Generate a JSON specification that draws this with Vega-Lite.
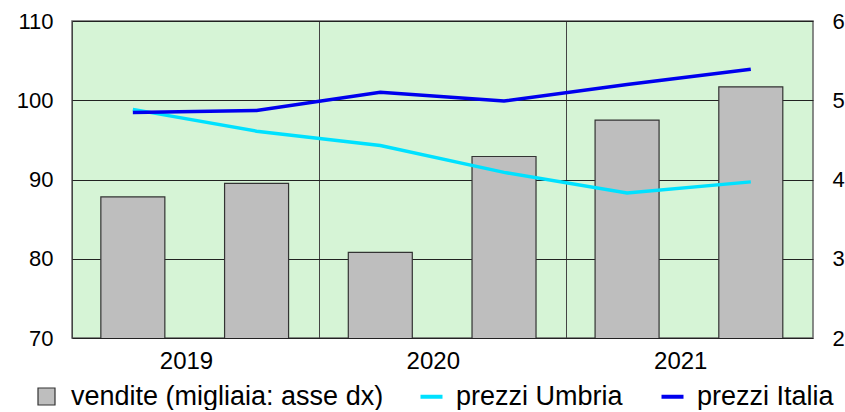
{
  "$schema": "https://vega.github.io/schema/vega-lite/v6.json",
  "width": 741,
  "height": 317,
  "autosize": {"type": "pad"},
  "padding": {"left": 16, "top": 10, "right": 0, "bottom": 0},
  "config": {
    "font": "Liberation Sans",
    "view": {"fill": "#d6f4d6", "stroke": "#666666", "strokeWidth": 1.5},
    "axis": {"labelFont": "Liberation Sans", "labelColor": "#000000", "ticks": false, "tickSize": 0, "domain": false, "title": null},
    "legend": {"labelFont": "Liberation Sans", "labelFontSize": 27, "labelColor": "#000000", "labelLimit": 600, "labelOffset": 11, "columnPadding": 30, "padding": 0, "direction": "horizontal", "orient": "none"}
  },
  "datasets": {
    "vendite": [
      {"periodo": "2019-04-01", "serie": "vendite (migliaia: asse dx)", "valore": 3.78},
      {"periodo": "2019-10-01", "serie": "vendite (migliaia: asse dx)", "valore": 3.95},
      {"periodo": "2020-04-01", "serie": "vendite (migliaia: asse dx)", "valore": 3.08},
      {"periodo": "2020-10-01", "serie": "vendite (migliaia: asse dx)", "valore": 4.29},
      {"periodo": "2021-04-01", "serie": "vendite (migliaia: asse dx)", "valore": 4.75},
      {"periodo": "2021-10-01", "serie": "vendite (migliaia: asse dx)", "valore": 5.17}
    ],
    "prezzi": [
      {"periodo": "2019-04-01", "serie": "prezzi Umbria", "valore": 98.85},
      {"periodo": "2019-10-01", "serie": "prezzi Umbria", "valore": 96.1},
      {"periodo": "2020-04-01", "serie": "prezzi Umbria", "valore": 94.3},
      {"periodo": "2020-10-01", "serie": "prezzi Umbria", "valore": 90.9},
      {"periodo": "2021-04-01", "serie": "prezzi Umbria", "valore": 88.3},
      {"periodo": "2021-10-01", "serie": "prezzi Umbria", "valore": 89.7},
      {"periodo": "2019-04-01", "serie": "prezzi Italia", "valore": 98.45},
      {"periodo": "2019-10-01", "serie": "prezzi Italia", "valore": 98.7},
      {"periodo": "2020-04-01", "serie": "prezzi Italia", "valore": 101.0},
      {"periodo": "2020-10-01", "serie": "prezzi Italia", "valore": 99.9},
      {"periodo": "2021-04-01", "serie": "prezzi Italia", "valore": 102.0},
      {"periodo": "2021-10-01", "serie": "prezzi Italia", "valore": 103.9}
    ]
  },
  "layer": [
    {
      "data": {"name": "vendite"},
      "mark": {"type": "bar", "size": 64, "stroke": "#333333", "strokeWidth": 1.2, "clip": true},
      "encoding": {
        "x": {
          "field": "periodo",
          "type": "temporal",
          "scale": {"type": "utc", "padding": 0, "domain": [{"year": 2019, "month": 1, "date": 1, "utc": true}, {"year": 2022, "month": 1, "date": 1, "utc": true}]},
          "axis": {
            "values": [{"year": 2019, "month": 1, "date": 1, "utc": true}, {"year": 2020, "month": 1, "date": 1, "utc": true}, {"year": 2021, "month": 1, "date": 1, "utc": true}],
            "grid": true,
            "gridColor": "#444444",
            "gridWidth": 1,
            "labelExpr": "utcFormat(datum.value, '%Y')",
            "labelOffset": 114,
            "labelFontSize": 24,
            "labelPadding": 11,
            "labelFlush": false,
            "labelOverlap": false,
            "labelAlign": "center"
          }
        },
        "y": {
          "field": "valore",
          "type": "quantitative",
          "scale": {"domain": [2, 6], "zero": false, "nice": false},
          "axis": {"orient": "right", "values": [2, 3, 4, 5, 6], "grid": false, "labelFontSize": 22, "labelPadding": 19}
        },
        "fill": {
          "field": "serie",
          "type": "nominal",
          "scale": {"domain": ["vendite (migliaia: asse dx)"], "range": ["#bebebe"]},
          "legend": {
            "legendX": -39,
            "legendY": 362,
            "title": null,
            "symbolType": "square",
            "symbolSize": 289,
            "symbolStrokeColor": "#333333",
            "symbolStrokeWidth": 1.2,
            "symbolOpacity": 1
          }
        }
      }
    },
    {
      "data": {"name": "prezzi"},
      "mark": {"type": "line", "strokeWidth": 3.5},
      "encoding": {
        "x": {"field": "periodo", "type": "temporal"},
        "y": {
          "field": "valore",
          "type": "quantitative",
          "scale": {"domain": [70, 110], "zero": false, "nice": false},
          "axis": {"orient": "left", "values": [70, 80, 90, 100, 110], "grid": true, "gridColor": "#222222", "gridWidth": 1, "labelFontSize": 22, "labelPadding": 19}
        },
        "stroke": {
          "field": "serie",
          "type": "nominal",
          "scale": {"domain": ["prezzi Umbria", "prezzi Italia"], "range": ["#00e1ff", "#0000ee"]},
          "legend": {
            "legendX": 346,
            "legendY": 362,
            "title": null,
            "symbolType": "stroke",
            "symbolSize": 484,
            "symbolStrokeWidth": 4
          }
        }
      }
    }
  ],
  "resolve": {"scale": {"y": "independent"}}
}
